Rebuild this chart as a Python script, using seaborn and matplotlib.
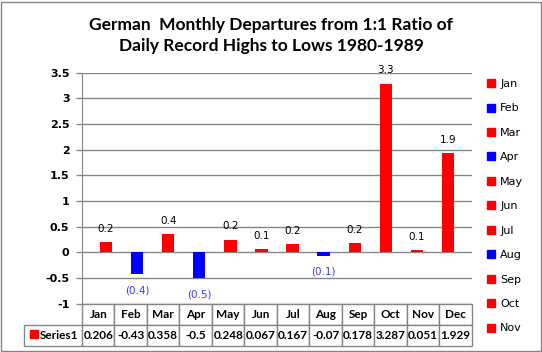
import matplotlib
matplotlib.use('Agg')
import matplotlib.pyplot as plt
import seaborn as sns
from matplotlib.lines import Line2D
from matplotlib.patches import Rectangle

# --- données ---
months = ['Jan', 'Feb', 'Mar', 'Apr', 'May', 'Jun', 'Jul', 'Aug', 'Sep', 'Oct', 'Nov', 'Dec']
values = [0.206, -0.43, 0.358, -0.5, 0.248, 0.067, 0.167, -0.07, 0.178, 3.287, 0.051, 1.929]
table_text = ['0.206', '-0.43', '0.358', '-0.5', '0.248', '0.067', '0.167', '-0.07', '0.178', '3.287', '0.051', '1.929']
series_name = 'Series1'
title = 'German  Monthly Departures from 1:1 Ratio of\nDaily Record Highs to Lows 1980-1989'

RED = '#FF0000'
BLUE = '#0000FF'
colors = {m: (RED if v >= 0 else BLUE) for m, v in zip(months, values)}

fig = plt.figure(figsize=(5.42, 3.52), dpi=100)
ax = fig.add_axes([82 / 542, 48.3 / 352, 390 / 542, 231 / 352])

sns.barplot(x=months, y=values, hue=months, palette=colors, width=0.4,
            saturation=1, legend=False, ax=ax, order=months)

ax.set_ylim(-1, 3.5)
ax.set_yticks([-1, -0.5, 0, 0.5, 1, 1.5, 2, 2.5, 3, 3.5])
ax.set_yticklabels([f'{t:g}' for t in ax.get_yticks()], fontweight='bold', fontsize=8,
                   family='DejaVu Sans')
ax.tick_params(axis='y', length=4, width=1, color='#868686', pad=5)
ax.tick_params(axis='x', bottom=False, labelbottom=False)
ax.set_xlabel('')
ax.set_ylabel('')
ax.yaxis.grid(True, color='#868686', linewidth=1)
ax.set_axisbelow(True)
for s in ['top', 'right', 'bottom']:
    ax.spines[s].set_visible(False)
ax.spines['left'].set_color('#868686')

# étiquettes des barres
for p, v in zip(ax.patches, values):
    xc = p.get_x() + p.get_width() / 2
    if v >= 0:
        ax.annotate(f'{v:.1f}', (xc, v), xytext=(0, 9.5), textcoords='offset points',
                    ha='center', va='center', fontsize=7.5, color='black')
    else:
        ax.annotate(f'({abs(v):.1f})', (xc, v), xytext=(0, -11.5), textcoords='offset points',
                    ha='center', va='center', fontsize=7.5, color='#3B3BFF')

# tableau de données (première colonne = nom de la série)
tbl = ax.table(cellText=[[series_name] + table_text], colLabels=[''] + months,
               colWidths=[0.15] + [1 / 12] * 12, cellLoc='center',
               bbox=[-0.15, -0.183, 1.15, 0.183])
tbl.auto_set_font_size(False)
for (r, c), cell in tbl.get_celld().items():
    cell.set_edgecolor('#868686')
    cell.set_linewidth(1)
    cell.set_text_props(fontweight='bold', fontsize=8.5, family='Lato')
    if c == 0:
        cell.PAD = 0.06
        cell._loc = 'right'
        cell.get_text().set_horizontalalignment('right')
        if r == 0:
            cell.visible_edges = ''
ax.plot([-0.124], [-0.133], 's', color=RED, ms=5.5, transform=ax.transAxes, clip_on=False)

# légende (Dec coupé comme dans l'original)
handles = [Line2D([], [], marker='s', linestyle='', color=colors[m], markersize=5.5)
           for m in months[:11]]
fig.legend(handles, months[:11], loc='upper left', bbox_to_anchor=(487 / 542, 1 - 79 / 352),
           frameon=False, fontsize=8, handlelength=0.7, handletextpad=0.5,
           labelspacing=1.3, borderpad=0, borderaxespad=0)

fig.text(0.5, 1 - 35.5 / 352, title, ha='center', va='center', fontsize=12.5,
         fontweight='bold', family='Lato', linespacing=1.45)

fig.patches.append(Rectangle((0.5 / 542, 1.5 / 352), 540 / 542, 349 / 352, transform=fig.transFigure,
                             fill=False, edgecolor='#868686', linewidth=1))

plt.savefig('out.png', dpi=100)
